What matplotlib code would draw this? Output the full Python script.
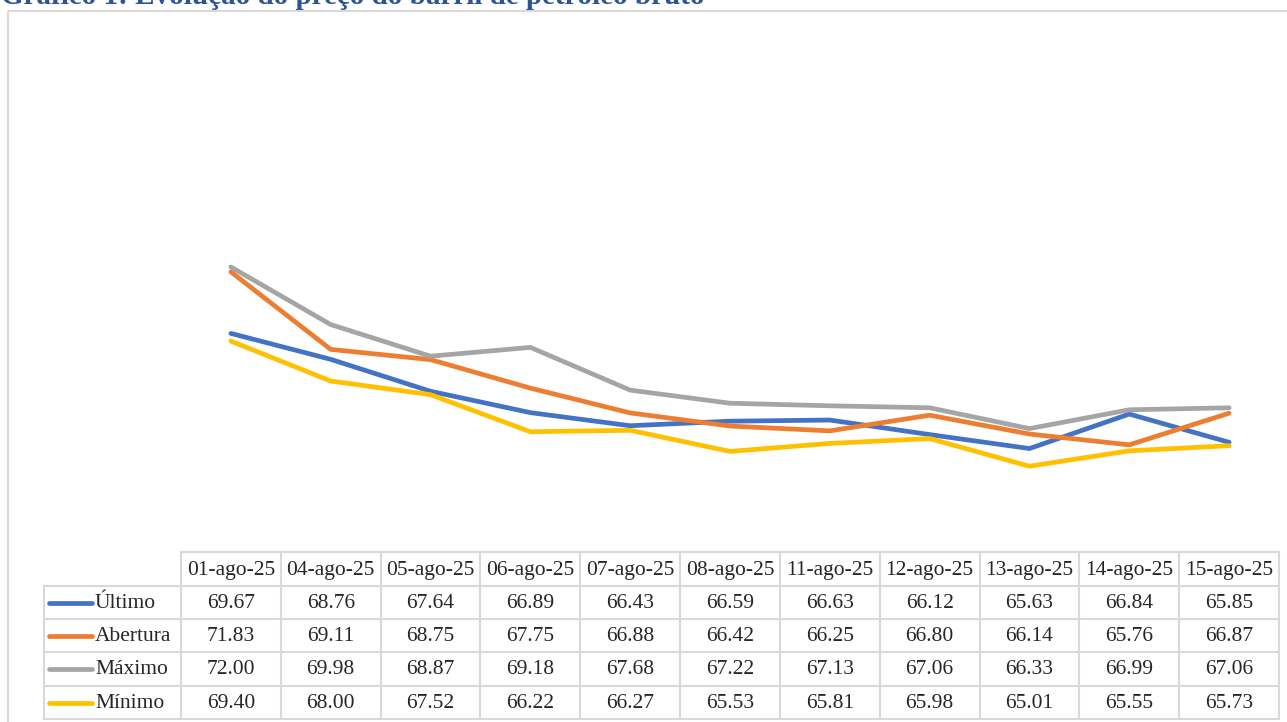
import matplotlib
matplotlib.use("Agg")
import matplotlib.pyplot as plt
from matplotlib.lines import Line2D
from matplotlib.patches import Rectangle
from matplotlib.transforms import Affine2D, blended_transform_factory

# ---- data ----
dates = ["01-ago-25", "04-ago-25", "05-ago-25", "06-ago-25", "07-ago-25", "08-ago-25",
         "11-ago-25", "12-ago-25", "13-ago-25", "14-ago-25", "15-ago-25"]
ultimo = [69.67, 68.76, 67.64, 66.89, 66.43, 66.59, 66.63, 66.12, 65.63, 66.84, 65.85]
abertura = [71.83, 69.11, 68.75, 67.75, 66.88, 66.42, 66.25, 66.80, 66.14, 65.76, 66.87]
maximo = [72.00, 69.98, 68.87, 69.18, 67.68, 67.22, 67.13, 67.06, 66.33, 66.99, 67.06]
minimo = [69.40, 68.00, 67.52, 66.22, 66.27, 65.53, 65.81, 65.98, 65.01, 65.55, 65.73]
series_names = ["Último", "Abertura", "Máximo", "Mínimo"]
series_values = [ultimo, abertura, maximo, minimo]
colors = ["#4472C4", "#ED7D31", "#A5A5A5", "#FFC000"]
title = "Gráfico 1: Evolução do preço do barril de petróleo bruto"

W, H = 1287, 722
fig = plt.figure(figsize=(W / 100, H / 100), dpi=100)
pix = Affine2D().scale(1 / W, -1 / H).translate(0, 1) + fig.transFigure

ax = fig.add_axes([181 / W, (H - 552) / H, (1279 - 181) / W, (552 - 39) / H])
ax.set_xlim(-0.5, len(dates) - 0.5)
ax.set_ylim(62, 80)
ax.axis("off")

x = list(range(len(dates)))
for i, (vals, c) in enumerate(zip(series_values, colors)):
    ax.plot(x, vals, color=c, lw=3.4, solid_capstyle="round",
            solid_joinstyle="round", zorder=2 + i, clip_on=False)

# ---- frame ----
fig.add_artist(Rectangle((8, 11), 1300, 730, transform=pix, fill=False,
                         edgecolor="#D9D9D9", lw=1.5))

# ---- title ----
fig.text(1 / W, 1 - 4 / H, title, transform=fig.transFigure, ha="left",
         va="baseline", fontsize=21, fontweight="bold", color="#2F5496",
         family="Liberation Serif")

# ---- data table ----
bt = blended_transform_factory(ax.transData, pix)
grid_c = "#D9D9D9"
glw = 1.5
y_head_top, y_head_bot = 552, 586
row_edges = [586, 619, 652, 686, 719]
font = dict(family="Liberation Serif", fontsize=15.5, color="#262626")

# horizontal lines
fig.add_artist(Line2D([-0.5, len(dates) - 0.5], [y_head_top, y_head_top],
                      transform=bt, color=grid_c, lw=glw))
xl = ax.transData.inverted().transform(pix.transform((44, 0)))[0]
for ry in row_edges:
    fig.add_artist(Line2D([xl, len(dates) - 0.5], [ry, ry], transform=bt,
                          color=grid_c, lw=glw))
# vertical lines
fig.add_artist(Line2D([44, 44], [row_edges[0], row_edges[-1]], transform=pix,
                      color=grid_c, lw=glw))
for k in range(len(dates) + 1):
    xb = k - 0.5
    fig.add_artist(Line2D([xb, xb], [y_head_top, row_edges[-1]], transform=bt,
                          color=grid_c, lw=glw))

# header
for k, d in enumerate(dates):
    fig.text(k, (y_head_top + y_head_bot) / 2 + 1, d, transform=bt, ha="center",
             va="center", **font)

# rows
for r, (name, vals, c) in enumerate(zip(series_names, series_values, colors)):
    yc = (row_edges[r] + row_edges[r + 1]) / 2
    fig.add_artist(Line2D([49, 92], [yc, yc], transform=pix, color=c, lw=3.4,
                          solid_capstyle="round"))
    fig.text(95, yc + 1, name, transform=pix, ha="left", va="center", **font)
    for k, v in enumerate(vals):
        fig.text(k, yc + 1, f"{v:.2f}", transform=bt, ha="center", va="center",
                 **font)

fig.savefig("out.png", dpi=100, facecolor="white")
